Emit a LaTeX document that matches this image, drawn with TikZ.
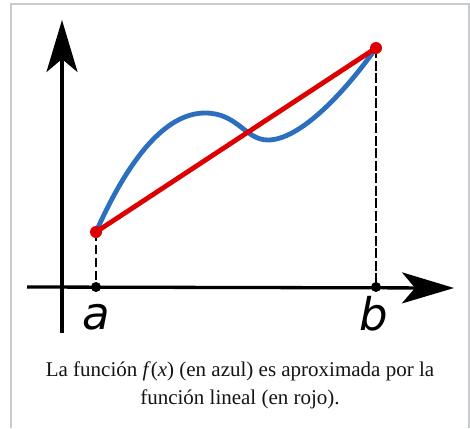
\documentclass[tikz,border=0pt]{standalone}
\usepackage{fontspec}
\setmainfont{Liberation Serif}
\newfontfamily\labfont{DejaVu Sans}
\usetikzlibrary{arrows.meta}
\definecolor{fblue}{RGB}{44,111,190}
\definecolor{fred}{RGB}{222,0,0}
\definecolor{framegray}{RGB}{200,204,209}
\definecolor{captext}{RGB}{20,20,20}
\tikzset{
  axis/.style={line width=3.3pt,-{Stealth[length=52pt,width=31pt,inset=13pt]}},
  guide/.style={line width=2.5pt,dash pattern=on 9pt off 4pt},
  dot/.style={circle,fill=black,inner sep=0pt,minimum size=10pt},
  rdot/.style={circle,fill=fred,inner sep=0pt,minimum size=12pt},
  lab/.style={anchor=base,inner sep=0pt,font=\labfont\itshape\fontsize{45pt}{50pt}\selectfont},
  captionbox/.style={align=center,inner sep=0pt,text=captext,font=\fontsize{21pt}{28pt}\selectfont}
}
\begin{document}
\begin{tikzpicture}[x=1pt,y=-1pt]
\useasboundingbox (0,0) rectangle (470,428);
\fill[white] (0,0) rectangle (470,428);
\draw[framegray,line width=1.6pt] (11,428) -- (11,4) -- (469,4) -- (469,428);
% axes
\coordinate (ybot) at (62,333);
\coordinate (ytop) at (62,20);
\coordinate (xleft) at (27,287);
\coordinate (xright) at (454,288);
\draw[axis] (ybot) -- (ytop);
\draw[axis] (xleft) -- (xright);
% points
\coordinate (A) at (96,287);
\coordinate (B) at (376,287);
\coordinate (FA) at (96,232);
\coordinate (FB) at (376,48);
\coordinate (M1) at (205,113);
\coordinate (M2) at (268,140);
\draw[guide] (FA) -- (A);
\draw[line width=2pt,dash pattern=on 10pt off 2.5pt] (FB) -- (B);
% blue function
\draw[fblue,line width=4.8pt] (FA) .. controls (128,160) and (165,113) .. (M1)
  .. controls (238,113) and (245,140) .. (M2)
  .. controls (300,140) and (345,92) .. (FB);
% red linear
\draw[fred,line width=4.8pt] (FA) -- (FB);
\node[rdot] (ra) at (FA) {};
\node[rdot] (rb) at (FB) {};
\node[dot] (da) at (A) {};
\node[dot] (db) at (B) {};
\node[lab] (la) at (96,329) {a};
\node[lab] (lb) at (374,330) {b};
\node[captionbox,anchor=base] (captxt) at (240,404) {La función \textit{f}(\textit{x}) (en azul) es aproximada por la\\función lineal (en rojo).};
\end{tikzpicture}
\end{document}
